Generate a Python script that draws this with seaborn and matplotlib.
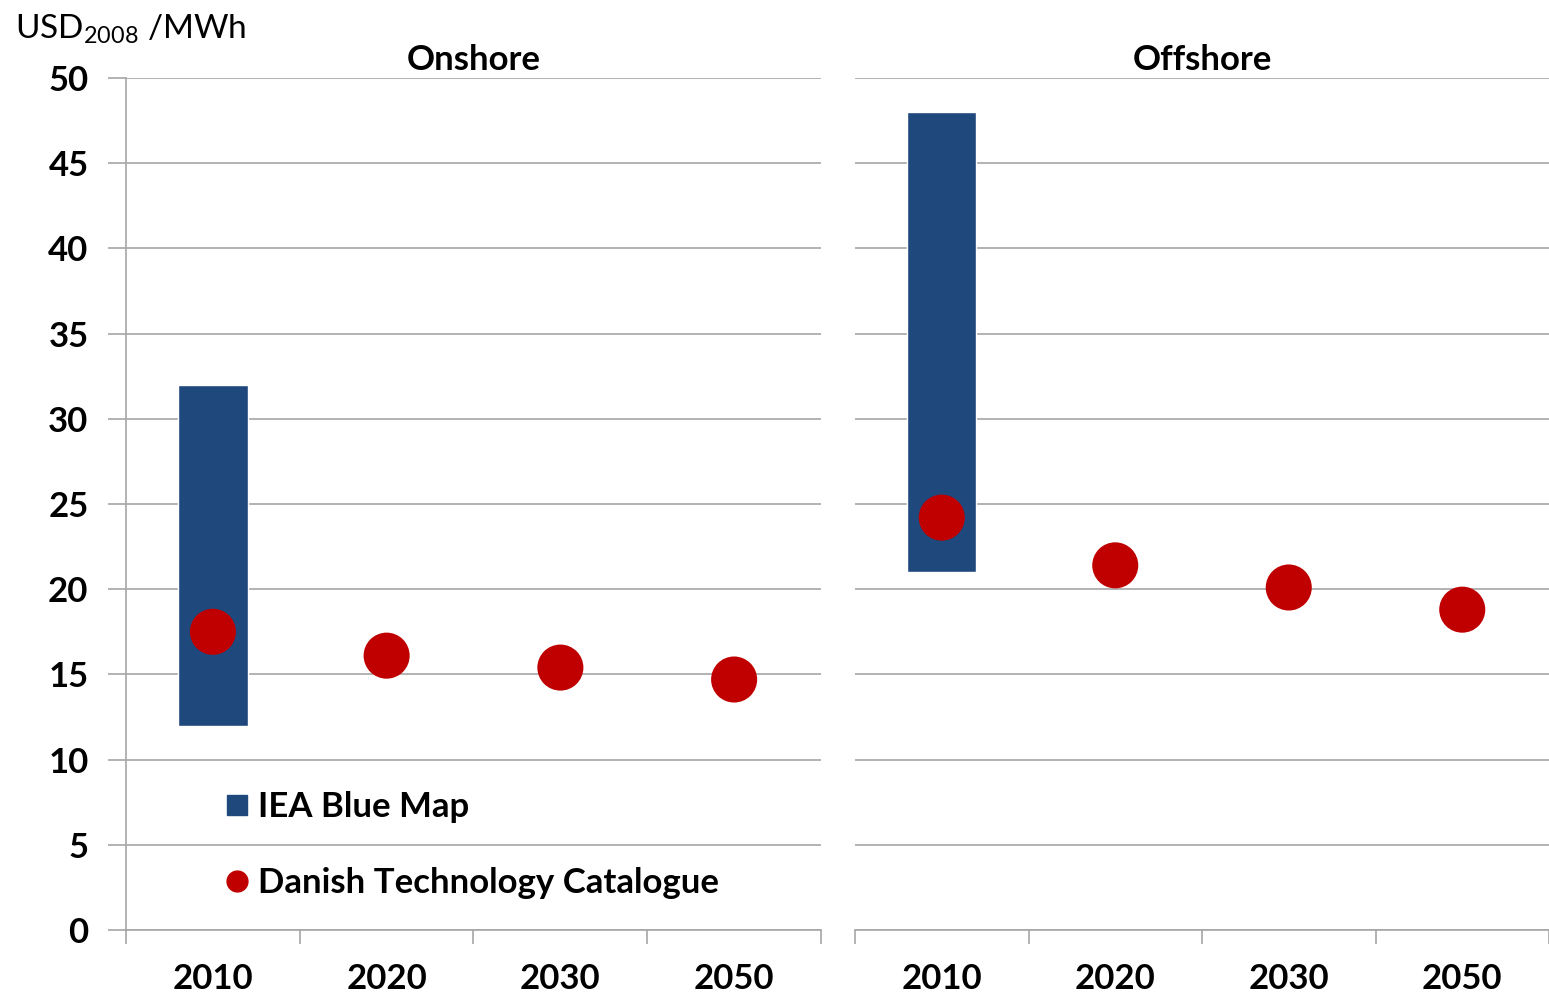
import numpy as np
import pandas as pd
import matplotlib
matplotlib.use("Agg")
import matplotlib.pyplot as plt
import seaborn as sns
from matplotlib.lines import Line2D

# datos
years = ["2010", "2020", "2030", "2050"]
panels = ["Onshore", "Offshore"]
iea_low = [12, 21]
iea_high = [32, 48]
danish_onshore = [17.5, 16.1, 15.4, 14.7]
danish_offshore = [24.2, 21.4, 20.1, 18.8]

azul = "#1F497D"
rojo = "#C00000"
gris = "#A6A6A6"

sns.set_theme(style="white")
plt.rcParams['font.family'] = ['Lato', 'DejaVu Sans']
plt.rcParams['mathtext.fontset'] = 'custom'
plt.rcParams['mathtext.rm'] = 'Lato'
plt.rcParams['text.color'] = 'black'
plt.rcParams['xtick.labelcolor'] = 'black'
plt.rcParams['ytick.labelcolor'] = 'black'

fig = plt.figure(figsize=(15.49, 9.97), dpi=100)
ax1 = fig.add_axes([126/1549, 67/997, 695/1549, 852/997])
ax2 = fig.add_axes([855/1549, 67/997, 694/1549, 852/997])

danish = [danish_onshore, danish_offshore]

for i, ax in enumerate([ax1, ax2]):
	ax.bar([years[0]], [iea_high[i] - iea_low[i]], bottom=[iea_low[i]], width=0.4,
		color=azul, zorder=2)
	df = pd.DataFrame({'Year': years, 'Value': danish[i]})
	sns.scatterplot(data=df, x='Year', y='Value', ax=ax, s=1100, color=rojo,
		edgecolor='none', zorder=3, legend=False)
	ax.set_xlim(-0.5, 3.5)
	ax.set_ylim(0, 50)
	ax.set_yticks(np.arange(0, 51, 5))
	ax.yaxis.grid(True, color=gris, linewidth=1.2)
	ax.xaxis.grid(False)
	ax.set_axisbelow(True)
	ax.set_xlabel('')
	ax.set_ylabel('')
	ax.set_title(panels[i], fontsize=25, fontweight='bold', pad=6, color='black')
	ax.set_xticks(range(4))
	ax.set_xticklabels(years, fontsize=25, fontweight='bold')
	ax.set_xticks([-0.5, 0.5, 1.5, 2.5, 3.5], minor=True)
	ax.tick_params(axis='x', which='major', length=0, pad=24)
	ax.tick_params(axis='x', which='minor', length=10, width=1.2, color=gris, bottom=True)
	for s in ['top', 'right']:
		ax.spines[s].set_visible(False)
	ax.spines['bottom'].set_color(gris)
	ax.spines['bottom'].set_linewidth(1.2)

ax1.spines['left'].set_color(gris)
ax1.spines['left'].set_linewidth(1.2)
ax1.spines['left'].set_bounds(0, 50)
ax1.tick_params(axis='y', length=13, width=1.2, color=gris, left=True, pad=14, labelsize=25)
for t in ax1.get_yticklabels():
	t.set_fontweight('bold')

ax2.spines['left'].set_visible(False)
ax2.tick_params(axis='y', left=False, labelleft=False)

fig.text(15/1549, 1 - 38/997, r'USD$_{2008}$ /MWh', fontsize=24, ha='left', va='baseline')

handles = [
	Line2D([], [], marker='s', linestyle='none', color=azul, markersize=15),
	Line2D([], [], marker='o', linestyle='none', color=rojo, markersize=15),
]
ax1.legend(handles, ['IEA Blue Map', 'Danish Technology Catalogue'], loc='lower left',
	bbox_to_anchor=(0.1, 0.0), frameon=False, handlelength=0.6, handletextpad=0.3,
	labelspacing=1.25, prop={'size': 25, 'weight': 'bold'})

plt.savefig('out.png', dpi=100)
